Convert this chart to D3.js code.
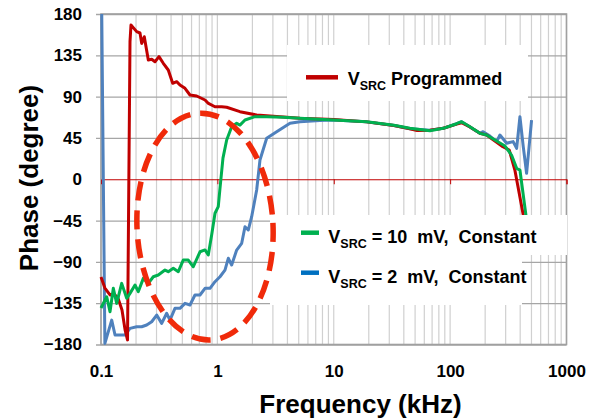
<!DOCTYPE html>
<html>
<head>
<meta charset="utf-8">
<script src="https://cdn.jsdelivr.net/npm/d3@7"></script>
<style>
    body { margin: 0; background: #fff; }
    text { font-family: 'Liberation Sans', Arial, sans-serif; font-weight: bold; }
</style>
</head>
<body>
<div id="wrapper"></div>
<script>
// phase (degree) vs frequency (kHz)
const programmed = [
    [0.1, -106.5], [0.108, -118.5], [0.1195, -126], [0.1293, -125], [0.14, -129.5],
    [0.1515, -142.5], [0.161, -164], [0.169, -175], [0.1775, 150], [0.181, 168],
    [0.2026, 160.8], [0.2163, 159.3], [0.2237, 148], [0.2355, 155.3], [0.255, 130],
    [0.2727, 130.7], [0.291, 128], [0.315, 133.5], [0.343, 126.3], [0.3785, 119],
    [0.413, 104.5], [0.447, 106.3], [0.477, 102.7], [0.527, 99], [0.5816, 91.8],
    [0.664, 90.7], [0.783, 86.3], [0.83, 83], [0.953, 79], [1.089, 79], [1.202, 78.4],
    [1.563, 73.6], [2.176, 70], [3.94, 67.5], [5.125, 66.4], [10, 65], [19.2, 62.5],
    [32.9, 58.5], [45.1, 55], [52, 53], [67, 53.5], [87.3, 55.5], [113.7, 60], [125.5, 61.6],
    [148, 57], [180.3, 50], [205.7, 48.2], [284, 35.5], [322, 31.9], [360, 10],
    [425, -39], [448, -66]
]

const constant10 = [
    [0.1, -140.3], [0.112, -128], [0.1195, -144.3], [0.1276, -118.8], [0.1364, -135.2],
    [0.1506, -113.4], [0.1663, -129.7], [0.1775, -124.3], [0.196, -115.2], [0.209, -122.5],
    [0.231, -108], [0.255, -113.4], [0.2814, -106.2], [0.3107, -104.3], [0.3546, -98.9],
    [0.3785, -100.7], [0.418, -97], [0.4615, -100.7], [0.509, -88], [0.5623, -88],
    [0.621, -95.3], [0.709, -79], [0.783, -77], [0.8355, -82.5], [0.893, -60.7],
    [0.954, -37], [1.018, -29.9], [1.053, -10], [1.117, 23], [1.202, 42.8], [1.327, 57.2],
    [1.465, 61], [1.563, 59], [1.727, 64.5], [2.104, 68.2], [2.652, 68.2], [3.68, 67.5],
    [5.125, 66.4], [10, 64.5], [19.2, 62.7], [32.9, 58.9], [45.1, 55.5], [67, 52.9],
    [87.3, 55.5], [113.7, 60.5], [125.5, 62.7], [148, 57.2], [180.3, 50], [205.7, 48.2],
    [296, 36.2], [337, 26.4], [373, 11.9], [398, 10], [448, -39], [466, -66]
]

const constant2 = [
    [0.1015, 180], [0.108, -178.8], [0.1236, -153.4], [0.132, -169.7], [0.1608, -169.7],
    [0.1775, -162.4], [0.2026, -160.7], [0.2237, -160.7], [0.247, -158.8], [0.2727, -155.2],
    [0.301, -147.9], [0.3323, -157], [0.367, -146], [0.3915, -153.4], [0.432, -140.6],
    [0.477, -140.6], [0.527, -135.2], [0.5816, -137], [0.642, -126.1], [0.709, -126.1],
    [0.783, -118.8], [0.864, -118.8], [0.954, -111.6], [1.053, -106.2], [1.162, -98.9],
    [1.241, -86.1], [1.327, -93.4], [1.465, -77.1], [1.618, -69.8], [1.727, -51.7],
    [1.843, -55.3], [1.971, -40.8], [2.176, -11.7], [2.323, 21], [2.652, 44.6],
    [3.232, 51.8], [4.205, 61], [5.125, 62.7], [7.6, 64], [10, 64.5], [19.2, 62.5],
    [32.9, 58.5], [45.1, 55], [67, 53.5], [87.3, 55.5], [113.7, 60.5], [125.5, 62.7],
    [148, 57], [180.3, 50], [192, 51.8], [220, 47], [251, 41], [268, 48.2], [306, 39.2],
    [348, 41], [373, 33.7], [398, 68.1], [425, 35.5], [454, 6.5], [501, 64.5]
]

const yTicks = [-180, -135, -90, -45, 0, 45, 90, 135, 180]
const xTicks = [0.1, 1, 10, 100, 1000]
const xTickLabels = ['0.1', '1', '10', '100', '1000']

const dimensions = {
    width: 599,
    height: 420,
    margins: { top: 14, right: 32.5, bottom: 75.5, left: 101 }
}
dimensions.boundedWidth = dimensions.width - dimensions.margins.left - dimensions.margins.right
dimensions.boundedHeight = dimensions.height - dimensions.margins.top - dimensions.margins.bottom

const xAccessor = d => d[0]
const yAccessor = d => d[1]

const wrapper = d3.select('#wrapper')
    .append('svg')
    .attr('width', dimensions.width)
    .attr('height', dimensions.height)

wrapper.append('rect').attr('width', dimensions.width).attr('height', dimensions.height).attr('fill', '#fff')

const bounds = wrapper.append('g')
    .attr('transform', `translate(${dimensions.margins.left}, ${dimensions.margins.top})`)

const xScale = d3.scaleLog()
    .domain([0.1, 1000])
    .range([0, dimensions.boundedWidth])

const yScale = d3.scaleLinear()
    .domain([-180, 180])
    .range([dimensions.boundedHeight, 0])

// vertical grid (every 1..9 per decade)
bounds.append('g')
    .selectAll('line')
    .data(xScale.ticks())
    .join('line')
    .attr('x1', d => xScale(d))
    .attr('x2', d => xScale(d))
    .attr('y1', 0)
    .attr('y2', dimensions.boundedHeight)
    .attr('stroke', '#d0d0d0')
    .attr('stroke-width', 1.2)

// horizontal grid + left ticks
const yAxisGenerator = d3.axisLeft(yScale)
    .tickValues(yTicks)
    .tickSize(-dimensions.boundedWidth)
    .tickPadding(19)
    .tickFormat(d3.format('d'))

const yAxis = bounds.append('g').call(yAxisGenerator)
yAxis.select('.domain').remove()
yAxis.selectAll('.tick line')
    .attr('x1', -5)
    .attr('stroke', '#a6a6a6')
    .attr('stroke-width', 1.3)
    .attr('opacity', d => d === 0 ? 0 : 1)
yAxis.selectAll('.tick text')
    .attr('fill', '#000')
    .style('font-size', '17px')
    .style('font-family', "'Liberation Sans', Arial, sans-serif")
    .style('font-weight', 'bold')

// frame
bounds.append('rect')
    .attr('width', dimensions.boundedWidth)
    .attr('height', dimensions.boundedHeight)
    .attr('fill', 'none')
    .attr('stroke', '#a0a0a0')
    .attr('stroke-width', 1.6)

// zero line (x axis crosses at 0)
const zeroAxis = bounds.append('g')
    .attr('transform', `translate(0, ${yScale(0)})`)
    .call(d3.axisBottom(xScale).tickValues(xTicks.slice(1)).tickSize(5).tickFormat(''))
zeroAxis.select('.domain').attr('stroke', '#c00000').attr('stroke-width', 1)
zeroAxis.selectAll('.tick line').attr('stroke', '#c00000')

// x tick labels at the bottom
const xAxisGenerator = d3.axisBottom(xScale)
    .tickValues(xTicks)
    .tickSize(0)
    .tickPadding(20)
    .tickFormat((d, i) => xTickLabels[i])
const xAxis = bounds.append('g')
    .attr('transform', `translate(0, ${dimensions.boundedHeight})`)
    .call(xAxisGenerator)
xAxis.select('.domain').remove()
xAxis.selectAll('.tick text')
    .attr('fill', '#000')
    .style('font-size', '17px')
    .style('font-family', "'Liberation Sans', Arial, sans-serif")
    .style('font-weight', 'bold')

const lineGenerator = d3.line()
    .x(d => xScale(xAccessor(d)))
    .y(d => yScale(yAccessor(d)))

const series = [
    { data: constant2, color: '#4f81bd' },
    { data: programmed, color: '#c00000' },
    { data: constant10, color: '#00b050' }
]

bounds.append('g')
    .selectAll('path')
    .data(series)
    .join('path')
    .attr('d', d => lineGenerator(d.data))
    .attr('fill', 'none')
    .attr('stroke', d => d.color)
    .attr('stroke-width', 3)
    .attr('stroke-linejoin', 'round')

// legend boxes (white, on top of the grid)
const legend = wrapper.append('g')
legend.append('rect').attr('x', 287).attr('y', 45).attr('width', 241).attr('height', 56).attr('fill', '#fff')
legend.append('rect').attr('x', 270).attr('y', 215).attr('width', 297).attr('height', 40).attr('fill', '#fff')
legend.append('rect').attr('x', 270).attr('y', 255).attr('width', 252).attr('height', 50).attr('fill', '#fff')

const legendItems = [
    { color: '#c00000', x1: 306, x2: 338, y: 77.3, tx: 347.7, base: 85, rest: ' Programmed' },
    { color: '#00b050', x1: 301, x2: 319, y: 232.7, tx: 328.3, base: 242.5, rest: ' = 10  mV,  Constant' },
    { color: '#0070c0', x1: 301, x2: 319, y: 272.7, tx: 328.3, base: 282.5, rest: ' = 2  mV,  Constant' }
]

legendItems.forEach(item => {
    legend.append('line')
        .attr('x1', item.x1).attr('x2', item.x2)
        .attr('y1', item.y).attr('y2', item.y)
        .attr('stroke', item.color)
        .attr('stroke-width', 4.5)
    const t = legend.append('text')
        .attr('x', item.tx)
        .attr('y', item.base)
        .style('font-size', '18px')
        .style('white-space', 'pre')
        .attr('fill', '#000')
    t.append('tspan').text('V')
    t.append('tspan').attr('dy', 5).style('font-size', '12.5px').text('SRC')
    t.append('tspan').attr('dy', -5).text(item.rest)
})

// dashed ellipse annotation
wrapper.append('ellipse')
    .attr('cx', dimensions.margins.left + xScale(0.783))
    .attr('cy', dimensions.margins.top + yScale(-51.5))
    .attr('rx', 68)
    .attr('ry', 113.5)
    .attr('transform', `rotate(-3, ${dimensions.margins.left + xScale(0.783)}, ${dimensions.margins.top + yScale(-51.5)})`)
    .attr('fill', 'none')
    .attr('stroke', '#f02a0a')
    .attr('stroke-width', 5.5)
    .attr('stroke-dasharray', '19,10')

// axis titles
wrapper.append('text')
    .attr('x', 360.5)
    .attr('y', 413)
    .attr('text-anchor', 'middle')
    .style('font-size', '26px')
    .text('Frequency (kHz)')

wrapper.append('text')
    .attr('transform', 'translate(38, 178) rotate(-90)')
    .attr('text-anchor', 'middle')
    .style('font-size', '26px')
    .text('Phase (degree)')
</script>
</body>
</html>
